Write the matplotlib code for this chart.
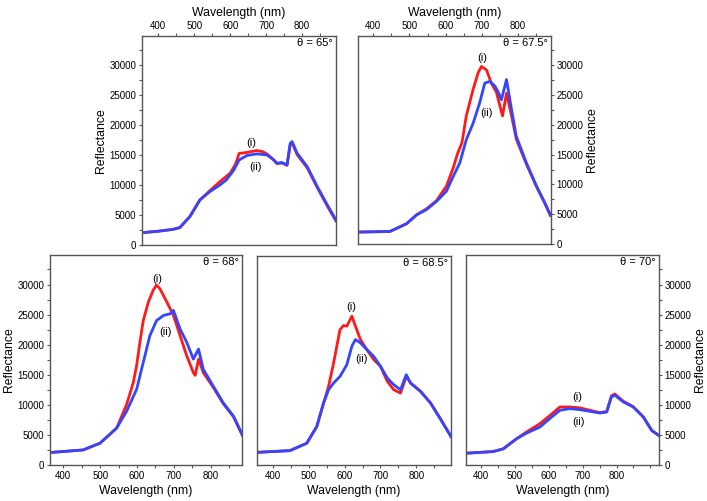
import numpy as np
import matplotlib
matplotlib.use("Agg")
import matplotlib.pyplot as plt
from matplotlib.ticker import MultipleLocator

plt.rcParams['font.family'] = ['Liberation Sans', 'DejaVu Sans']

# ---- data (wavelength nm, reflectance) ----
# theta = 65
wl_65_red = [356, 400, 440, 460, 488, 516, 544, 572, 600, 615, 625, 646, 674, 690, 702, 721, 730, 744, 758, 767, 772, 786, 814, 842, 870, 894]
r_65_red = [2060, 2300, 2600, 2900, 4740, 7530, 9100, 10600, 12000, 13500, 15300, 15450, 15780, 15600, 15220, 14220, 13600, 13700, 13300, 16800, 17100, 15100, 12900, 9600, 6500, 4000]
wl_65_blue = [356, 400, 440, 460, 488, 516, 544, 572, 590, 610, 625, 646, 674, 702, 721, 730, 744, 758, 767, 772, 786, 814, 842, 870, 894]
r_65_blue = [2060, 2300, 2600, 2900, 4740, 7530, 8920, 10040, 10900, 12500, 14200, 14940, 15220, 15050, 14220, 13660, 13770, 13380, 17000, 17280, 15330, 13100, 9760, 6690, 4180]

# theta = 67.5
wl_675_red = [359, 446, 492, 520, 547, 575, 602, 621, 633, 645, 657, 676, 690, 699, 713, 726, 740, 757, 768, 782, 795, 823, 851, 874, 889]
r_675_red = [2000, 2100, 3400, 4900, 5900, 7300, 9680, 12800, 15200, 17000, 21500, 26000, 28800, 29800, 29200, 27000, 25500, 21500, 25300, 21500, 17600, 13400, 9600, 6800, 4800]
wl_675_blue = [359, 446, 492, 520, 547, 575, 602, 621, 639, 657, 676, 694, 708, 722, 736, 745, 754, 768, 782, 795, 823, 851, 874, 889]
r_675_blue = [2000, 2100, 3400, 4900, 5760, 7160, 8840, 11360, 13600, 17520, 20300, 23700, 27000, 27300, 26500, 25500, 24200, 27600, 22550, 18080, 13600, 9700, 6900, 4900]

# theta = 68
wl_68_red = [364, 454, 500, 545, 572, 590, 599, 608, 617, 631, 644, 653, 662, 681, 699, 717, 735, 753, 758, 767, 780, 807, 834, 862, 886]
r_68_red = [2070, 2500, 3630, 6150, 10060, 13700, 16500, 20400, 24000, 27100, 29050, 29900, 29330, 27100, 24860, 21500, 18160, 15360, 14900, 17600, 15360, 12900, 10200, 8000, 4900]
wl_68_blue = [364, 454, 500, 545, 572, 599, 617, 635, 653, 672, 690, 699, 717, 735, 753, 767, 780, 807, 834, 862, 886]
r_68_blue = [2070, 2500, 3630, 6150, 8940, 12570, 17040, 21500, 24000, 24860, 25140, 25700, 22600, 20400, 17600, 19270, 15900, 13100, 10340, 8100, 5030]

# theta = 68.5
wl_685_red = [358, 447, 494, 522, 541, 555, 569, 587, 597, 606, 620, 630, 644, 662, 681, 700, 719, 737, 756, 772, 784, 812, 840, 869, 897]
r_685_red = [2120, 2400, 3630, 6420, 10340, 13130, 17040, 22630, 23300, 23190, 24860, 23190, 20950, 19270, 17600, 16480, 13970, 12570, 12010, 14800, 13690, 12290, 10340, 7540, 4750]
wl_685_blue = [358, 447, 494, 522, 541, 555, 569, 587, 606, 620, 630, 644, 662, 681, 700, 719, 737, 756, 772, 784, 812, 840, 869, 897]
r_685_blue = [2120, 2400, 3630, 6420, 10340, 12570, 13690, 14800, 16760, 19830, 20950, 20390, 19270, 18160, 16480, 14530, 13410, 12570, 15080, 13690, 12290, 10340, 7540, 4750]

# theta = 70
wl_70_red = [356, 436, 466, 505, 535, 574, 603, 633, 662, 692, 721, 751, 771, 785, 795, 820, 849, 879, 904, 925]
r_70_red = [1950, 2230, 2680, 4350, 5500, 6860, 8200, 9650, 9650, 9500, 9100, 8700, 8900, 11500, 11800, 10600, 9700, 8000, 5700, 4900]
wl_70_blue = [356, 436, 466, 505, 535, 574, 603, 633, 662, 692, 721, 751, 771, 785, 795, 820, 849, 879, 904, 925]
r_70_blue = [1950, 2230, 2680, 4350, 5300, 6300, 7700, 9090, 9370, 9200, 8920, 8640, 8800, 11320, 11600, 10480, 9650, 7970, 5740, 4900]

angles = ["65", "67.5", "68", "68.5", "70"]

# label positions (wavelength, reflectance) for (i) and (ii)
lab_i = [(660, 17000), (701, 31230), (655, 31000), (618, 26370), (684, 11320)]
lab_ii = [(671, 13100), (713, 22000), (678, 22180), (646, 17710), (687, 7140)]

RED = "#ff1a1a"
BLUE = "#3346ff"
SPINE = "#555555"

fig = plt.figure(figsize=(7.07, 5.01), dpi=100)

# [left, bottom, width, height], x-limits, x-axis side, y-axis side
panels = [
    ([0.2008, 0.511, 0.2744, 0.417], (355, 894), "top", "left"),
    ([0.5064, 0.513, 0.2730, 0.415], (358, 891), "top", "right"),
    ([0.0707, 0.0719, 0.2716, 0.419], (364, 885), "bottom", "left"),
    ([0.3635, 0.0719, 0.2744, 0.417], (355, 897), "bottom", None),
    ([0.6590, 0.0719, 0.2730, 0.419], (356, 925), "bottom", "right"),
]
reds = [(wl_65_red, r_65_red), (wl_675_red, r_675_red), (wl_68_red, r_68_red),
        (wl_685_red, r_685_red), (wl_70_red, r_70_red)]
blues = [(wl_65_blue, r_65_blue), (wl_675_blue, r_675_blue), (wl_68_blue, r_68_blue),
         (wl_685_blue, r_685_blue), (wl_70_blue, r_70_blue)]

for k, (rect, xl, xside, yside) in enumerate(panels):
    ax = fig.add_axes(rect)
    ax.plot(reds[k][0], reds[k][1], color=RED, lw=2.0)
    ax.plot(blues[k][0], blues[k][1], color=BLUE, lw=2.0)
    ax.set_xlim(xl)
    ax.set_ylim(0, 34900)

    for s in ax.spines.values():
        s.set_color(SPINE)
        s.set_linewidth(1.0)

    ax.xaxis.set_major_locator(MultipleLocator(100))
    ax.xaxis.set_minor_locator(MultipleLocator(50))
    ax.yaxis.set_major_locator(MultipleLocator(5000))
    ax.yaxis.set_minor_locator(MultipleLocator(2500))
    ax.tick_params(which="both", direction="out", color=SPINE, width=0.8,
                   labelsize=7, pad=1.5)
    ax.tick_params(which="major", length=2.5)
    ax.tick_params(which="minor", length=2)

    if xside == "top":
        ax.xaxis.tick_top()
        ax.xaxis.set_label_position("top")
    ax.set_xticks([400, 500, 600, 700, 800])
    ax.set_xlabel("Wavelength (nm)", fontsize=8.8, labelpad=3)

    if yside is None:
        ax.tick_params(axis="y", which="both", left=False, labelleft=False)
    else:
        if yside == "right":
            ax.yaxis.tick_right()
            ax.yaxis.set_label_position("right")
        ax.set_ylabel("Reflectance", fontsize=8.8, labelpad=2)

    ax.text(0.985, 0.965, "\u03b8 = " + angles[k] + "\u00b0", transform=ax.transAxes,
            ha="right", va="center", fontsize=8)
    ax.text(lab_i[k][0], lab_i[k][1], "(i)", ha="center", va="center", fontsize=8)
    ax.text(lab_ii[k][0], lab_ii[k][1], "(ii)", ha="center", va="center", fontsize=8)

fig.savefig("out.png", dpi=100)
